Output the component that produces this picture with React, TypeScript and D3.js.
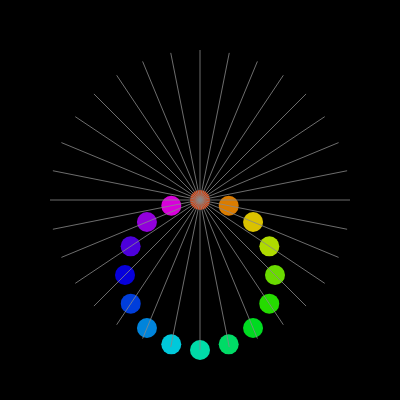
import React, { useRef, useEffect } from 'react';
import * as d3 from 'd3';

// polar positions of the dots (degrees clockwise from top, radius 0..1)
const angles = [90, 101.25, 112.5, 123.75, 135, 146.25, 157.5, 168.75, 180, 191.25, 202.5, 213.75, 225, 236.25, 247.5, 258.75];
const radii = [0, 0.195, 0.383, 0.556, 0.707, 0.831, 0.924, 0.981, 1, 0.981, 0.924, 0.831, 0.707, 0.556, 0.383, 0.195];
const hues = [15, 34, 53, 72, 91, 110, 129, 148, 166, 185, 204, 223, 242, 261, 280, 299];
const spokeCount = 32;

const App = () => {
  const ref = useRef<SVGSVGElement | null>(null);

  useEffect(() => {
    const width = 400;
    const height = 400;
    const outer = 150;

    const svg = d3.select(ref.current);
    svg.selectAll('*').remove();
    svg.attr('width', width).attr('height', height);

    svg.append('rect').attr('width', width).attr('height', height).attr('fill', '#000');

    const g = svg.append('g').attr('transform', `translate(${width / 2},${height / 2})`);

    const r = d3.scaleLinear().domain([0, 1]).range([0, outer]);
    const a = d3.scaleLinear().domain([0, 360]).range([0, 2 * Math.PI]);

    const data = angles.map((ang, i) => ({ ang, rad: radii[i], hue: hues[i] }));

    // dots
    g.selectAll('circle.dot')
      .data(data)
      .join('circle')
      .attr('class', 'dot')
      .attr('cx', d => r(d.rad) * Math.sin(a(d.ang)))
      .attr('cy', d => -r(d.rad) * Math.cos(a(d.ang)))
      .attr('r', 10)
      .attr('fill', d => d3.hsl(d.hue, 1, 0.43).toString());

    // spokes on top
    g.selectAll('line.spoke')
      .data(d3.range(spokeCount))
      .join('line')
      .attr('class', 'spoke')
      .attr('x1', 0)
      .attr('y1', 0)
      .attr('x2', i => r(1) * Math.sin(a((i * 360) / spokeCount)))
      .attr('y2', i => -r(1) * Math.cos(a((i * 360) / spokeCount)))
      .attr('stroke', '#888')
      .attr('stroke-opacity', 0.8)
      .attr('stroke-width', 1);
  }, []);

  return <svg ref={ref} style={{ position: 'fixed', top: 0, left: 0, display: 'block' }} />;
};

export default App;
